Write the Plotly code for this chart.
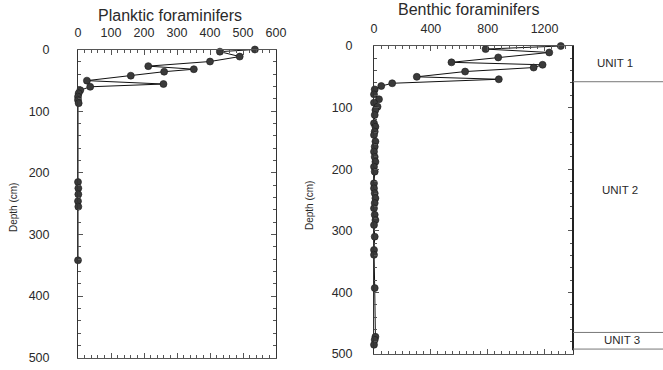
import plotly.graph_objects as go

# Planktic foraminifer counts down the core
plank_depth = [0, 3.5, 11.5, 19.5, 27, 32, 36, 42.5, 50.5, 56, 60.5, 66, 71, 76.5, 82, 87,
               215, 225, 235, 246, 255, 342]
plank_count = [536, 430, 490, 400, 213, 351, 261, 160, 27, 259, 37, 7, 2, 0, 0, 2,
               0, 1, 1, 0, 1, 0]

# Benthic foraminifer counts down the core
benth_depth = [0, 5, 10.5, 18.5, 26.5, 30.5, 35, 41.5, 50, 54, 60.5, 65, 70.5, 78.5, 86.5, 92,
               98.5, 104, 112, 125.5, 131, 139, 144.5, 155, 163.5, 171.5, 180, 188, 196, 204,
               223, 231, 239, 247, 255, 263.5, 274, 282.5, 290.5, 309.5, 331, 339, 393,
               472, 477, 485]
benth_count = [1314, 785, 1233, 874, 545, 1186, 1123, 641, 301, 878, 128, 51, 5, 0, 35, 0,
               25, 10, 5, 0, 10, 5, 0, 10, 5, 0, 5, 10, 0, 5,
               0, 0, 5, 10, 5, 0, 5, 10, 0, 5, 0, 0, 5,
               10, 5, 0]

# Lithological units (depth intervals, cm) and label depths
unit_names = ["UNIT 1", "UNIT 2", "UNIT 3"]
unit_top = [-5, 58, 465]
unit_bottom = [58, 465, 492]
unit_label_depth = [27, 234, 478]

depth_ticks = [0, 100, 200, 300, 400, 500]
plank_ticks = [0, 100, 200, 300, 400, 500, 600]
benth_ticks = [0, 400, 800, 1200]

W, H = 663, 370
FONT = "Liberation Sans, Arial, sans-serif"
INK = "#2a2a2a"
AXIS = "#555555"


def px_x(p):
    return p / W


def px_y(p):
    return 1 - p / H


marker = dict(size=7, color="#3a3a3a", line=dict(width=0.6, color="#1a1a1a"))
line = dict(color="#111111", width=1)

fig = go.Figure()
fig.add_trace(go.Scatter(x=plank_count, y=plank_depth, mode="lines+markers",
                         marker=marker, line=line, xaxis="x", yaxis="y",
                         showlegend=False, cliponaxis=False))
fig.add_trace(go.Scatter(x=benth_count, y=benth_depth, mode="lines+markers",
                         marker=marker, line=line, xaxis="x2", yaxis="y2",
                         showlegend=False, cliponaxis=False))

tickfont = dict(family=FONT, size=12.5, color=INK)


def xaxis_cfg(domain, rng, tickvals, minor_dtick, anchor):
    return dict(
        domain=domain, range=rng, side="top", anchor=anchor, automargin=False,
        tickmode="array", tickvals=tickvals,
        ticks="inside", ticklen=5, tickwidth=1, tickcolor=AXIS,
        minor=dict(dtick=minor_dtick, ticks="inside", ticklen=3, tickcolor=AXIS,
                   showgrid=False),
        showline=True, linecolor=AXIS, linewidth=1, mirror="ticks",
        showgrid=False, zeroline=False, tickfont=tickfont,
        ticklabelstandoff=7, fixedrange=True,
    )


def yaxis_cfg(domain, standoff, anchor):
    return dict(
        domain=domain, range=[500, 0], anchor=anchor, automargin=False,
        tickmode="array", tickvals=depth_ticks,
        ticks="inside", ticklen=5, tickwidth=1, tickcolor=AXIS,
        minor=dict(dtick=20, ticks="inside", ticklen=3, tickcolor=AXIS, showgrid=False),
        showline=True, linecolor="#333333", linewidth=1, mirror="ticks",
        showgrid=False, zeroline=False, tickfont=tickfont,
        ticklabelstandoff=standoff, fixedrange=True,
    )


left_x = [px_x(78), px_x(276)]
left_y = [px_y(357.7), px_y(49.5)]
right_x = [px_x(374), px_x(573)]
right_y = [px_y(354), px_y(46)]

fig.update_layout(
    width=W, height=H,
    margin=dict(l=0, r=0, t=0, b=0, autoexpand=False),
    paper_bgcolor="white", plot_bgcolor="white",
    font=dict(family=FONT, color=INK),
    xaxis=xaxis_cfg(left_x, [0, 600], plank_ticks, 20, "y"),
    yaxis=yaxis_cfg(left_y, 25, "x"),
    xaxis2=xaxis_cfg(right_x, [0, 1400], benth_ticks, 50, "y2"),
    yaxis2=yaxis_cfg(right_y, 18, "x2"),
)

centered = dict(xref="paper", yref="paper", showarrow=False,
                xanchor="center", yanchor="middle")

# Panel titles and depth axis titles
fig.add_annotation(text="Planktic foraminifers", x=px_x(170), y=px_y(15),
                   font=dict(family=FONT, size=16, color=INK), **centered)
fig.add_annotation(text="Benthic foraminifers", x=px_x(468), y=px_y(10),
                   font=dict(family=FONT, size=16, color=INK), **centered)
for xc, yc in [(13, 208), (309, 206)]:
    fig.add_annotation(text="Depth (cm)", x=px_x(xc), y=px_y(yc), textangle=-90,
                       font=dict(family=FONT, size=10, color=INK), **centered)

# Heavy right border of the benthic panel
fig.add_shape(type="line", xref="paper", yref="y2", x0=px_x(573), x1=px_x(573),
              y0=unit_top[0], y1=unit_bottom[-1] + 2, line=dict(color="#222222", width=2))

# Unit column beside the benthic panel
bounds = sorted(set(unit_top + unit_bottom))
for b in bounds:
    fig.add_shape(type="line", xref="paper", yref="y2", x0=px_x(573), x1=1.0,
                  y0=b, y1=b, line=dict(color="#777777", width=1))
label_x = [615, 620, 622]
for name, d, lx in zip(unit_names, unit_label_depth, label_x):
    fig.add_annotation(text=name, x=px_x(lx), y=d, xref="paper", yref="y2",
                       showarrow=False, xanchor="center", yanchor="middle",
                       font=dict(family=FONT, size=11.5, color=INK))

fig.write_html("out.html")
